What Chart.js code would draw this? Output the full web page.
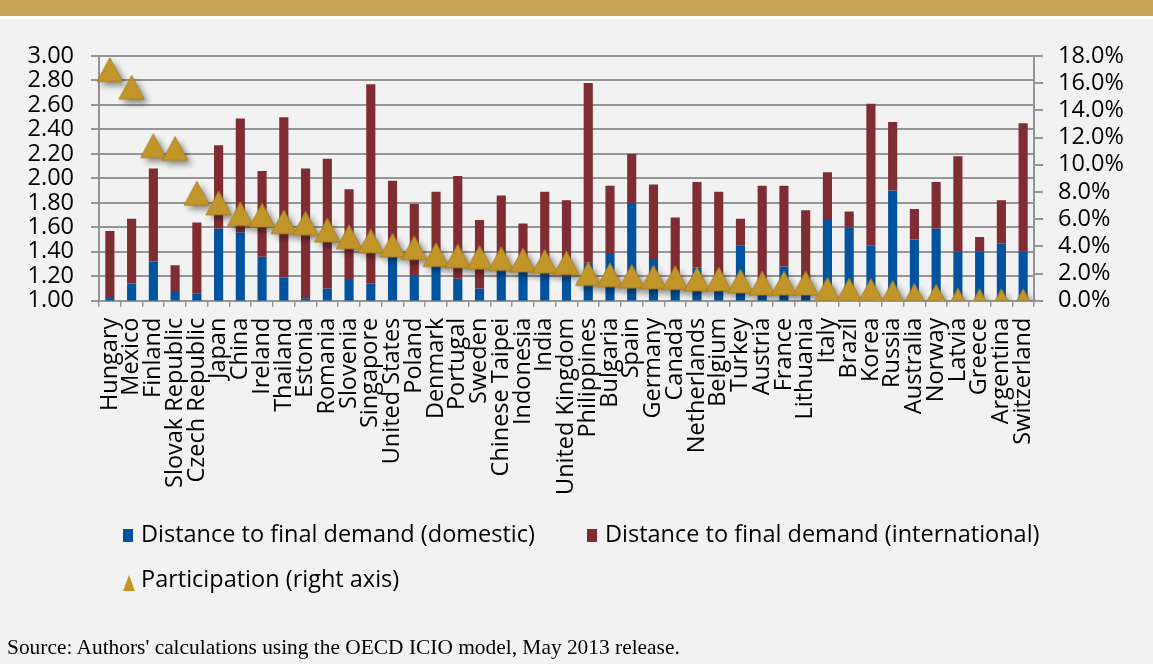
<!DOCTYPE html>
<html>
<head>
<meta charset="utf-8">
<script src="https://cdn.jsdelivr.net/npm/chart.js@4.4.1/dist/chart.umd.min.js"></script>
<style>
  html, body { margin: 0; padding: 0; background: #f2f2f2; }
  #wrap { position: relative; width: 1153px; height: 664px; background: #f2f2f2; overflow: hidden; }
  #band { position: absolute; left: 0; top: 0; width: 1153px; height: 16px; background: #c9a55a; }
  #band2 { position: absolute; left: 0; top: 16px; width: 1153px; height: 3px; background: #ffffff; }
  #c { position: absolute; left: 0; top: 0; }
  .leg { position: absolute; font-family: "Open Sans", sans-serif; font-size: 23.5px; color: #000; line-height: 1; white-space: nowrap; }
  .sw { position: absolute; }
  #src { position: absolute; left: 7px; top: 635px; font-family: "Liberation Serif", "Times New Roman", serif; font-size: 21.4px; color: #000; white-space: nowrap; }
</style>
</head>
<body>
<div id="wrap">
  <div id="band"></div>
  <div id="band2"></div>
  <canvas id="c" width="1153" height="664"></canvas>
  <div class="sw" style="left:123px;top:529px;width:10px;height:13px;background:#00539f;"></div>
  <div class="leg" style="left:141px;top:522px;">Distance to final demand (domestic)</div>
  <div class="sw" style="left:587px;top:529px;width:10px;height:13px;background:#7f2c33;"></div>
  <div class="leg" style="left:605px;top:522px;">Distance to final demand (international)</div>
  <svg class="sw" style="left:122px;top:575px;" width="14" height="17"><polygon points="7,0 13,16 1,16" fill="#c29529"/></svg>
  <div class="leg" style="left:141px;top:567px;">Participation (right axis)</div>
  <div id="src">Source: Authors' calculations using the OECD ICIO model, May 2013 release.</div>
</div>
<script>
const countries = ["Hungary","Mexico","Finland","Slovak Republic","Czech Republic","Japan","China","Ireland","Thailand","Estonia","Romania","Slovenia","Singapore","United States","Poland","Denmark","Portugal","Sweden","Chinese Taipei","Indonesia","India","United Kingdom","Philippines","Bulgaria","Spain","Germany","Canada","Netherlands","Belgium","Turkey","Austria","France","Lithuania","Italy","Brazil","Korea","Russia","Australia","Norway","Latvia","Greece","Argentina","Switzerland"];
// top of the domestic (blue) segment
const domesticLevel = [1.03,1.14,1.32,1.08,1.06,1.59,1.56,1.36,1.19,1.02,1.10,1.17,1.14,1.37,1.21,1.28,1.18,1.10,1.25,1.24,1.24,1.20,1.31,1.39,1.79,1.34,1.12,1.27,1.08,1.45,1.05,1.28,1.05,1.66,1.60,1.45,1.90,1.50,1.59,1.40,1.40,1.47,1.40];
// top of the international (red) segment = total distance to final demand
const totalLevel = [1.57,1.67,2.08,1.29,1.64,2.27,2.49,2.06,2.50,2.08,2.16,1.91,2.77,1.98,1.79,1.89,2.02,1.66,1.86,1.63,1.89,1.82,2.78,1.94,2.20,1.95,1.68,1.97,1.89,1.67,1.94,1.94,1.74,2.05,1.73,2.61,2.46,1.75,1.97,2.18,1.52,1.82,2.45];
// participation, percent (right axis)
const participation = [17.0,15.7,11.4,11.2,7.9,7.2,6.4,6.3,5.8,5.7,5.2,4.7,4.4,4.1,3.9,3.4,3.3,3.2,3.1,3.0,2.9,2.8,2.0,1.9,1.8,1.75,1.7,1.6,1.6,1.45,1.3,1.3,1.3,0.85,0.8,0.75,0.6,0.4,0.35,0.05,0.0,0.0,0.0];
const leftTicks = ["1.00","1.20","1.40","1.60","1.80","2.00","2.20","2.40","2.60","2.80","3.00"];
const rightTicks = ["0.0%","2.0%","4.0%","6.0%","8.0%","10.0%","12.0%","14.0%","16.0%","18.0%"];
const axisBase = 1.0;

// triangle marker with drop shadow
function makeTriangle() {
  const cv = document.createElement('canvas');
  cv.width = 52; cv.height = 52;
  const g = cv.getContext('2d');
  g.shadowColor = 'rgba(0,0,0,0.45)';
  g.shadowBlur = 6;
  g.shadowOffsetX = 4;
  g.shadowOffsetY = 4;
  g.beginPath();
  g.moveTo(26, 14);
  g.lineTo(38.8, 38);
  g.lineTo(13.2, 38);
  g.closePath();
  g.fillStyle = '#c29529';
  g.fill();
  g.shadowColor = 'transparent';
  g.lineWidth = 0.8;
  g.strokeStyle = '#9e7a22';
  g.stroke();
  return cv;
}
const tri = makeTriangle();

const gridColor = '#959595';
const tickFont = { family: 'Open Sans', size: 23.5, lineHeight: 1 };

new Chart(document.getElementById('c'), {
  data: {
    labels: countries,
    datasets: [
      {
        type: 'line',
        label: 'Participation (right axis)',
        data: participation,
        yAxisID: 'y1',
        showLine: false,
        pointStyle: tri,
        pointRadius: 14,
        order: 0
      },
      {
        type: 'bar',
        label: 'Distance to final demand (domestic)',
        data: domesticLevel.map(v => [axisBase, v]),
        backgroundColor: '#00539f',
        grouped: false,
        categoryPercentage: 1,
        barPercentage: 0.42,
        yAxisID: 'y',
        order: 2
      },
      {
        type: 'bar',
        label: 'Distance to final demand (international)',
        data: domesticLevel.map((v, i) => [v, totalLevel[i]]),
        backgroundColor: '#7f2c33',
        grouped: false,
        categoryPercentage: 1,
        barPercentage: 0.42,
        yAxisID: 'y',
        order: 1
      }
    ]
  },
  options: {
    responsive: false,
    animation: false,
    layout: { padding: { top: 56, left: 0, right: 0, bottom: 0 } },
    plugins: { legend: { display: false }, tooltip: { enabled: false } },
    scales: {
      x: {
        type: 'category',
        offset: true,
        grid: { display: true, drawOnChartArea: false, drawTicks: true, tickLength: 6, offset: true, color: gridColor, lineWidth: 1.5 },
        border: { display: true, color: gridColor, width: 2 },
        ticks: { maxRotation: 90, minRotation: 90, autoSkip: false, font: tickFont, color: '#000', padding: 11 },
        afterFit: s => { s.height = 664 - 300.7; }
      },
      y: {
        position: 'left',
        min: 1, max: 3,
        ticks: { stepSize: 0.2, autoSkip: false, font: tickFont, color: '#000', padding: 17,
                 callback: (v, i) => leftTicks[i] },
        grid: { color: gridColor, lineWidth: 2, tickLength: 8, drawTicks: true },
        border: { display: true, color: gridColor, width: 2 },
        afterFit: s => { s.width = 99; }
      },
      y1: {
        position: 'right',
        min: 0, max: 18,
        ticks: { stepSize: 2, autoSkip: false, font: tickFont, color: '#000', padding: 15,
                 callback: (v, i) => rightTicks[i] },
        grid: { drawOnChartArea: false, color: gridColor, lineWidth: 2, tickLength: 9, drawTicks: true },
        border: { display: true, color: gridColor, width: 2 },
        afterFit: s => { s.width = 1153 - 1034; }
      }
    }
  }
});
</script>
</body>
</html>
